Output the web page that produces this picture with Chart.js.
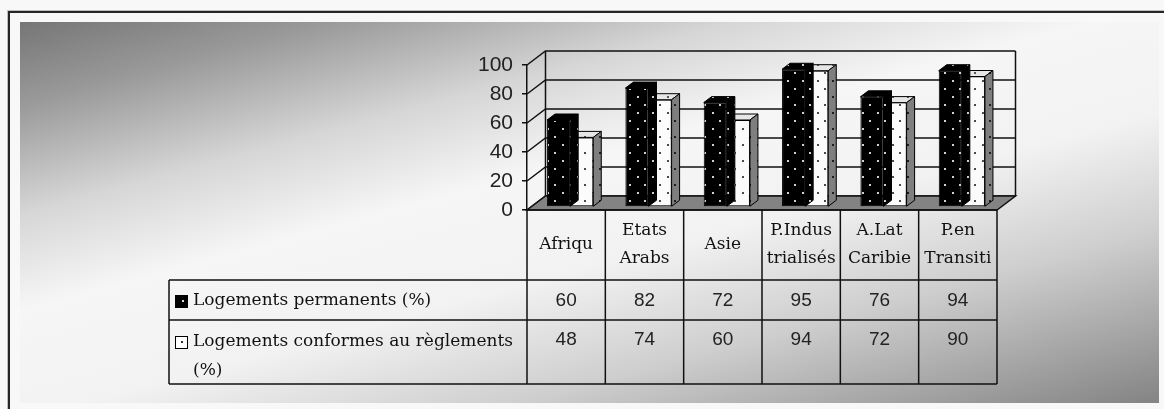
<!DOCTYPE html>
<html>
<head>
<meta charset="utf-8">
<style>
  html, body { margin: 0; padding: 0; background: #f8f8f8; overflow: hidden; }
  #wrap { width: 1164px; height: 409px; position: relative; }
</style>
<script src="https://cdn.jsdelivr.net/npm/chart.js@4.4.1/dist/chart.umd.min.js"></script>
</head>
<body>
<div id="wrap"><canvas id="c" width="1164" height="409"></canvas></div>
<script>
// Regions (two-line header labels) and the two housing series
const categories = [["Afriqu"], ["Etats", "Arabs"], ["Asie"], ["P.Indus", "trialisés"], ["A.Lat", "Caribie"], ["P.en", "Transiti"]];
const permanents = [60, 82, 72, 95, 76, 94];
const conformes = [48, 74, 60, 94, 72, 90];
const seriesNames = [["Logements permanents (%)"], ["Logements conformes au règlements", "(%)"]];
const yTicks = [0, 20, 40, 60, 80, 100];

// 3D projection: back wall offset, bar plane offset, bar depth
const WALL_DX = 18.5, WALL_DY = -14;
const BAR_DX = 4, BAR_DY = -3;
const DEPTH_DX = 8, DEPTH_DY = -6;

// Data table geometry (below the floor)
const TABLE_LEFT = 169;
const ROW_LINES = [280, 320, 384];

function dotPattern(bg, dot) {
  const c = document.createElement('canvas');
  c.width = 15; c.height = 16;
  const g = c.getContext('2d');
  g.fillStyle = bg; g.fillRect(0, 0, 15, 16);
  g.fillStyle = dot;
  g.fillRect(3, 3, 2, 2);
  g.fillRect(10, 11, 2, 2);
  return g.createPattern(c, 'repeat');
}

const blackDots = dotPattern('#000000', '#cfcfcf');
const whiteDots = dotPattern('#fbfbfb', '#4a4a4a');
const topWhite = dotPattern('#e6e6e6', '#555555');
const sideGrey = dotPattern('#7f7f7f', '#1e1e1e');
const faceFill = [{ top: blackDots, side: blackDots }, { top: topWhite, side: sideGrey }];

const scenePlugin = {
  id: 'scene',
  beforeDraw(chart) {
    const ctx = chart.ctx;
    ctx.save();
    ctx.fillStyle = '#f8f8f8';
    ctx.fillRect(0, 0, 1164, 409);
    // outer frame
    ctx.fillStyle = '#bdbdbd';
    ctx.fillRect(7, 10, 1157, 1);
    ctx.fillRect(7, 10, 1, 399);
    ctx.fillStyle = '#262626';
    ctx.fillRect(8, 11, 1156, 2);
    ctx.fillRect(8, 11, 2, 398);
    // shaded panel
    const x0 = 20, y0 = 22, x1 = 1159, y1 = 403;
    const g = ctx.createLinearGradient(20, 22, 192.6, 662.6);
    g.addColorStop(0, '#767676');
    g.addColorStop(0.12, '#999999');
    g.addColorStop(0.28, '#d6d6d6');
    g.addColorStop(0.42, '#f6f6f6');
    g.addColorStop(0.58, '#f2f2f2');
    g.addColorStop(0.75, '#cecece');
    g.addColorStop(1, '#848484');
    ctx.fillStyle = g;
    ctx.fillRect(x0, y0, x1 - x0, y1 - y0);
    ctx.restore();
  },
  beforeDatasetsDraw(chart) {
    const ctx = chart.ctx;
    const a = chart.chartArea;
    const ys = chart.scales.y;
    const y0 = ys.getPixelForValue(0);
    const yTop = ys.getPixelForValue(100);
    ctx.save();
    ctx.strokeStyle = '#111';
    ctx.lineWidth = 1.5;
    // back wall gridlines and side-wall diagonals
    yTicks.forEach(v => {
      const y = ys.getPixelForValue(v);
      ctx.beginPath();
      ctx.moveTo(a.left, y);
      ctx.lineTo(a.left + WALL_DX, y + WALL_DY);
      ctx.lineTo(a.right + WALL_DX, y + WALL_DY);
      ctx.stroke();
    });
    // back wall edges
    ctx.beginPath();
    ctx.moveTo(a.left + WALL_DX, yTop + WALL_DY);
    ctx.lineTo(a.left + WALL_DX, y0 + WALL_DY);
    ctx.moveTo(a.right + WALL_DX, yTop + WALL_DY);
    ctx.lineTo(a.right + WALL_DX, y0 + WALL_DY);
    ctx.stroke();
    // floor
    ctx.beginPath();
    ctx.moveTo(a.left, y0);
    ctx.lineTo(a.right, y0);
    ctx.lineTo(a.right + WALL_DX, y0 + WALL_DY);
    ctx.lineTo(a.left + WALL_DX, y0 + WALL_DY);
    ctx.closePath();
    ctx.fillStyle = '#838383';
    ctx.fill();
    ctx.stroke();
    ctx.restore();
    // bars sit a little behind the front plane
    ctx.save();
    ctx.translate(BAR_DX, BAR_DY);
  },
  afterDatasetDraw(chart, args) {
    const ctx = chart.ctx;
    const fills = faceFill[args.index];
    ctx.save();
    ctx.strokeStyle = '#000';
    ctx.lineWidth = 1;
    ctx.lineJoin = 'miter';
    args.meta.data.forEach(bar => {
      const p = bar.getProps(['x', 'y', 'base', 'width'], true);
      const l = p.x - p.width / 2, r = p.x + p.width / 2;
      ctx.beginPath();
      ctx.moveTo(l, p.y);
      ctx.lineTo(l + DEPTH_DX, p.y + DEPTH_DY);
      ctx.lineTo(r + DEPTH_DX, p.y + DEPTH_DY);
      ctx.lineTo(r, p.y);
      ctx.closePath();
      ctx.fillStyle = fills.top;
      ctx.fill();
      ctx.stroke();
      ctx.beginPath();
      ctx.moveTo(r, p.y);
      ctx.lineTo(r + DEPTH_DX, p.y + DEPTH_DY);
      ctx.lineTo(r + DEPTH_DX, p.base + DEPTH_DY);
      ctx.lineTo(r, p.base);
      ctx.closePath();
      ctx.fillStyle = fills.side;
      ctx.fill();
      ctx.stroke();
    });
    ctx.restore();
  },
  afterDatasetsDraw(chart) {
    chart.ctx.restore();
  },
  afterDraw(chart) {
    const ctx = chart.ctx;
    const a = chart.chartArea;
    const xs = chart.scales.x;
    const n = categories.length;
    const colW = (a.right - a.left) / n;
    const top = chart.scales.y.getPixelForValue(0);
    ctx.save();
    ctx.strokeStyle = '#111';
    ctx.lineWidth = 1.5;
    ctx.beginPath();
    // horizontal rules
    ROW_LINES.forEach(y => { ctx.moveTo(TABLE_LEFT, y); ctx.lineTo(a.right, y); });
    ctx.moveTo(a.left, top); ctx.lineTo(a.right, top);
    // vertical rules
    for (let i = 0; i <= n; i++) {
      const x = a.left + i * colW;
      ctx.moveTo(x, top); ctx.lineTo(x, ROW_LINES[2]);
    }
    ctx.moveTo(TABLE_LEFT, ROW_LINES[0]); ctx.lineTo(TABLE_LEFT, ROW_LINES[2]);
    ctx.stroke();

    // header labels
    ctx.fillStyle = '#111';
    ctx.textAlign = 'center';
    ctx.textBaseline = 'middle';
    ctx.font = '17px "DejaVu Serif"';
    categories.forEach((lines, i) => {
      const cx = xs.getPixelForValue(i);
      if (lines.length === 1) {
        ctx.fillText(lines[0], cx, 245);
      } else {
        ctx.fillText(lines[0], cx, 231);
        ctx.fillText(lines[1], cx, 259);
      }
    });

    // values
    ctx.font = '19px "Liberation Sans"';
    ctx.fillStyle = '#222';
    [permanents, conformes].forEach((vals, r) => {
      const y = r === 0 ? 300.5 : 339.5;
      vals.forEach((v, i) => ctx.fillText(String(v), xs.getPixelForValue(i), y));
    });

    // series names with keys
    ctx.textAlign = 'left';
    ctx.fillStyle = '#111';
    ctx.font = '17px "DejaVu Serif"';
    ctx.fillText(seriesNames[0][0], 193, 301);
    ctx.fillText(seriesNames[1][0], 193, 342);
    ctx.fillText(seriesNames[1][1], 193, 371);
    ctx.lineWidth = 1;
    ctx.strokeStyle = '#000';
    ctx.fillStyle = '#000';
    ctx.fillRect(175.5, 295.5, 12, 12);
    ctx.strokeRect(175.5, 295.5, 12, 12);
    ctx.fillStyle = '#ddd';
    ctx.fillRect(182, 300, 2, 2);
    ctx.fillStyle = '#fff';
    ctx.fillRect(175.5, 336.5, 12, 12);
    ctx.strokeRect(175.5, 336.5, 12, 12);
    ctx.fillStyle = '#333';
    ctx.fillRect(181, 341, 2, 2);
    ctx.restore();
  }
};

new Chart(document.getElementById('c'), {
  type: 'bar',
  data: {
    labels: categories.map(l => l.join(' ')),
    datasets: [
      { label: seriesNames[0].join(' '), data: permanents, backgroundColor: blackDots, borderColor: '#000', borderWidth: 1, borderSkipped: false, clip: false },
      { label: seriesNames[1].join(' '), data: conformes, backgroundColor: whiteDots, borderColor: '#000', borderWidth: 1, borderSkipped: false, clip: false }
    ]
  },
  options: {
    responsive: false,
    animation: false,
    devicePixelRatio: 1,
    events: [],
    layout: { padding: { left: 20, right: 167, top: 65, bottom: 199 } },
    datasets: { bar: { categoryPercentage: 0.59, barPercentage: 1.0 } },
    plugins: { legend: { display: false }, tooltip: { enabled: false }, title: { display: false } },
    scales: {
      x: { display: false },
      y: {
        min: 0, max: 100,
        afterFit(scale) { scale.width = 507; },
        afterBuildTicks(scale) { scale.ticks = yTicks.map(v => ({ value: v })); },
        grid: { drawOnChartArea: false, drawTicks: true, tickLength: 5, color: '#111', lineWidth: 1.5 },
        border: { display: true, color: '#111', width: 1.5 },
        ticks: { padding: 9, color: '#222', font: { family: 'Liberation Sans', size: 21 } }
      }
    }
  },
  plugins: [scenePlugin]
});
</script>
</body>
</html>
